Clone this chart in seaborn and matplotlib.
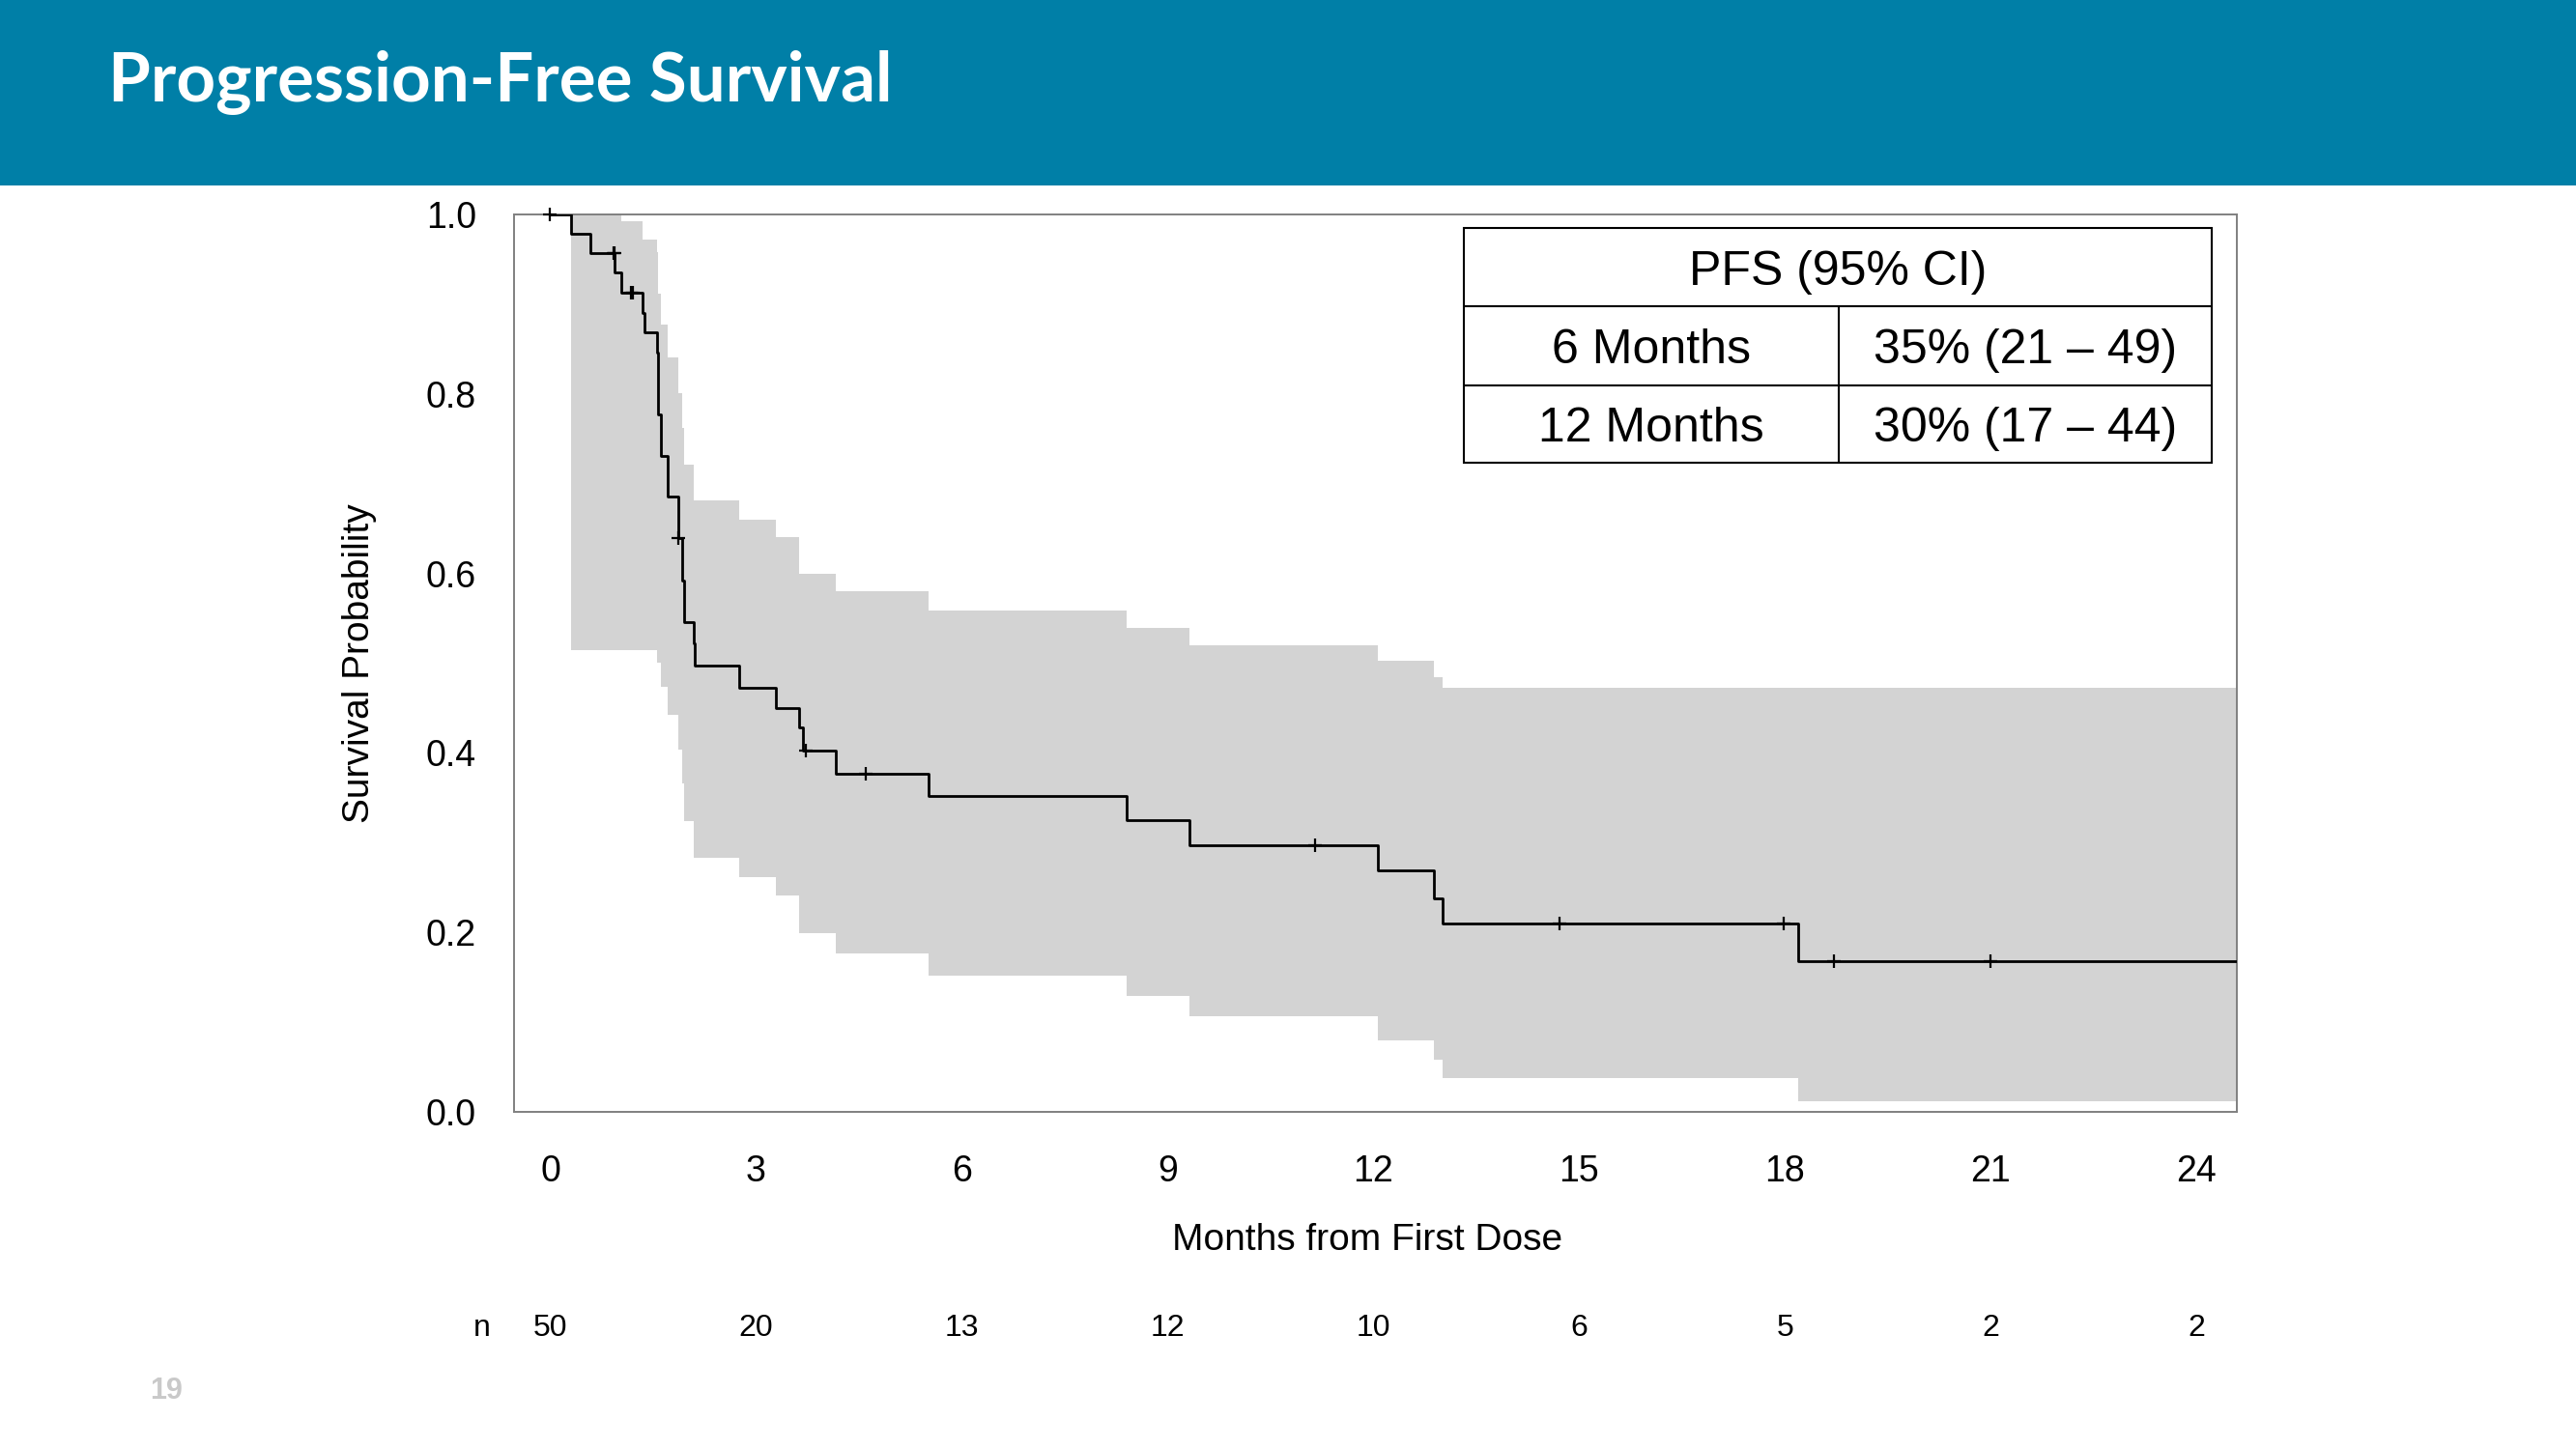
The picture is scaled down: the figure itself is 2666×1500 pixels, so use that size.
# -*- coding: UTF-8 -*-
# Kaplan-Meier PFS slide
import matplotlib
matplotlib.use("Agg")
import matplotlib.pyplot as plt
from matplotlib.patches import Rectangle
from matplotlib.lines import Line2D
import numpy as np
import pandas as pd
import seaborn as sns

# step times (months) and KM estimate after each step
times = [0.0, 0.31, 0.59, 0.94, 1.04, 1.34, 1.37, 1.55, 1.57, 1.62, 1.71, 1.87, 1.92, 1.95,
         2.09, 2.11, 2.75, 3.29, 3.63, 3.68, 4.16, 5.51, 8.40, 9.32, 12.07, 12.88, 13.01, 18.20]
surv = [1.0, 0.978, 0.957, 0.935, 0.913, 0.890, 0.869, 0.846, 0.777, 0.731, 0.686, 0.639, 0.592, 0.546,
        0.522, 0.497, 0.473, 0.450, 0.428, 0.403, 0.377, 0.352, 0.325, 0.297, 0.269, 0.238, 0.210, 0.168]
lower = [1.0, 0.515, 0.515, 0.515, 0.515, 0.515, 0.515, 0.501, 0.501, 0.474, 0.442, 0.404, 0.366, 0.324,
         0.283, 0.283, 0.262, 0.241, 0.199, 0.199, 0.177, 0.152, 0.129, 0.107, 0.080, 0.058, 0.038, 0.012]
upper = [1.0, 1.0, 1.0, 1.0, 0.992, 0.972, 0.972, 0.958, 0.912, 0.877, 0.841, 0.801, 0.762, 0.721,
         0.681, 0.681, 0.660, 0.640, 0.600, 0.600, 0.580, 0.559, 0.539, 0.520, 0.503, 0.484, 0.473, 0.473]

# censored observations
cens_t = [0.0, 0.92, 0.935, 1.18, 1.20, 1.87, 3.73, 4.60, 11.15, 14.71, 17.99, 18.71, 21.0]
cens_s = [1.0, 0.957, 0.957, 0.913, 0.913, 0.639, 0.403, 0.377, 0.297, 0.210, 0.210, 0.168, 0.168]

# number at risk
risk_months = [0, 3, 6, 9, 12, 15, 18, 21, 24]
n_at_risk = [50, 20, 13, 12, 10, 6, 5, 2, 2]

# summary table
table_header = "PFS (95% CI)"
table_rows = [("6 Months", "35% (21 \u2013 49)"), ("12 Months", "30% (17 \u2013 44)")]

title = "Progression-Free Survival"
page_no = "19"

sns.set_theme(style="white")
plt.rcParams['font.family'] = ['Liberation Sans', 'DejaVu Sans']
plt.rcParams['text.color'] = 'black'
plt.rcParams['axes.labelcolor'] = 'black'

x_min, x_max = -0.528, 24.59
grey = '#808080'

fig = plt.figure(figsize=(26.66, 15), dpi=100)
fig.patch.set_facecolor('white')

# banner
fig.patches.append(Rectangle((0, 0.8722), 1, 0.1278, transform=fig.transFigure,
                             facecolor='#007FA7', edgecolor='none', zorder=0))
fig.text(0.0419, 0.930, title, color='white', fontsize=51, fontweight='bold',
         family=['Lato', 'DejaVu Sans'], va='baseline', ha='left')
fig.text(0.0581, 0.040, page_no, color='#C9C9C9', fontsize=22, fontweight='bold',
         va='center', ha='left')

ax = fig.add_axes([0.19955, 0.23267, 0.66879, 0.61933])

km = pd.DataFrame({"t": times + [x_max], "s": surv + [surv[-1]],
                   "lo": lower + [lower[-1]], "hi": upper + [upper[-1]]})

ax.fill_between(km["t"], km["lo"], km["hi"], step='post', color='#D3D3D3', lw=0, zorder=1)
sns.lineplot(data=km, x="t", y="s", drawstyle='steps-post', color='black', lw=2.0,
             estimator=None, ax=ax, zorder=3)
sns.scatterplot(x=cens_t, y=cens_s, marker='+', s=100, color='black', linewidth=1.6,
                ax=ax, zorder=4, clip_on=False)

ax.set_xlim(x_min, x_max)
ax.set_ylim(0, 1)
ax.set_xticks(risk_months)
ax.set_yticks(np.arange(0, 1.01, 0.2))
ax.set_yticklabels(["%.1f" % v for v in np.arange(0, 1.01, 0.2)])

for sp in ax.spines.values():
    sp.set_color(grey)
    sp.set_linewidth(1.4)
ax.tick_params(axis='both', direction='out', length=14.4, width=0.8, color=grey,
               labelsize=27, labelcolor='black')
ax.tick_params(axis='x', pad=17.5)
ax.tick_params(axis='y', pad=13.7)

ax.set_xlabel("Months from First Dose", fontsize=28, va='center')
ax.xaxis.set_label_coords(0.4952, -0.1432)
ax.set_ylabel("Survival Probability", fontsize=28)
ax.yaxis.set_label_coords(-0.0796, 0.5)

# number at risk row
xt = ax.get_xaxis_transform()
ax.text(-1.0, -0.2411, "n", transform=xt, ha='center', va='center', fontsize=23, clip_on=False)
for m, n in zip(risk_months, n_at_risk):
    ax.text(m, -0.2411, str(n), transform=xt, ha='center', va='center', fontsize=23, clip_on=False)

# PFS table in axes fraction
tx0, tx1, txm = 0.5513, 0.9854, 0.7689
ty = [0.9849, 0.8977, 0.8095, 0.7234]
dy = -0.0054
ax.add_patch(Rectangle((tx0, ty[3]), tx1 - tx0, ty[0] - ty[3], transform=ax.transAxes,
                       facecolor='white', edgecolor='black', lw=1.5, zorder=5))
for yy in ty[1:3]:
    ax.add_line(Line2D([tx0, tx1], [yy, yy], transform=ax.transAxes, color='black', lw=1.5, zorder=6))
ax.add_line(Line2D([txm, txm], [ty[1], ty[3]], transform=ax.transAxes, color='black', lw=1.5, zorder=6))
ax.text((tx0 + tx1) / 2, (ty[0] + ty[1]) / 2 + dy, table_header, transform=ax.transAxes,
        ha='center', va='center', fontsize=36, zorder=7)
for i, (lab, val) in enumerate(table_rows):
    yc = (ty[i + 1] + ty[i + 2]) / 2 + dy
    ax.text((tx0 + txm) / 2, yc, lab, transform=ax.transAxes, ha='center', va='center', fontsize=36, zorder=7)
    ax.text((txm + tx1) / 2, yc, val, transform=ax.transAxes, ha='center', va='center', fontsize=36, zorder=7)

plt.savefig('out.png', dpi=100)
